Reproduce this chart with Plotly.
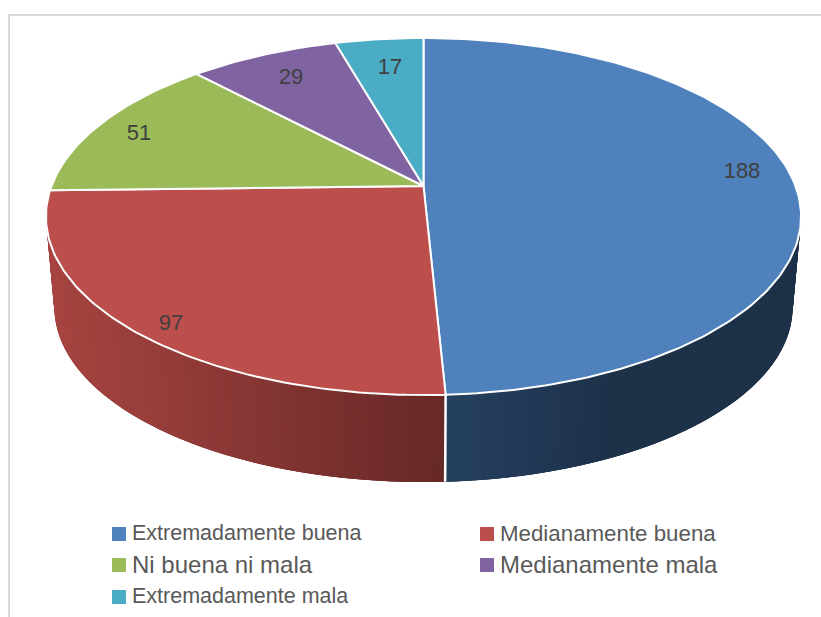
import math
import plotly.graph_objs as go

categories = ["Extremadamente buena", "Medianamente buena", "Ni buena ni mala",
              "Medianamente mala", "Extremadamente mala"]
values = [188, 97, 51, 29, 17]
colors = ["#4f81bd", "#bc4e4b", "#9bbb59", "#8064a2", "#4bacc6"]

# pixel placement (axes below run 1:1 with pixels)
label_x = [742, 171, 139, 291, 390]
label_y = [172, 324, 134, 78, 68]
legend_x = [119, 487, 119, 487, 119]
legend_y = [534, 534, 565, 565, 597]
legend_size = [21.5, 22.3, 24, 24, 21.5]

# the pie is a unit disc seen through a perspective projection
CX, CY = 423.5, 186
A, B, K = 372, 173.3, 0.171
VANISH_Y, DEPTH_SCALE = 4262, 0.9775


def top_point(theta):
    u, v = math.sin(theta), math.cos(theta)
    w = 1 + K * v
    return CX + A * u / w, CY - B * v / w


def bottom_point(theta):
    x, y = top_point(theta)
    return CX + DEPTH_SCALE * (x - CX), VANISH_Y + DEPTH_SCALE * (y - VANISH_Y)


def mix(c0, c1, f):
    f = max(0.0, min(1.0, f))
    return "rgb(%d,%d,%d)" % tuple(round(a + (b - a) * f) for a, b in zip(c0, c1))


def side_color(i, x):
    if i == 0:
        return mix((38, 66, 98), (29, 49, 73), (x - 445) / 180)
    return mix((166, 68, 65), (100, 39, 37), (x - 47) / 398)


total = sum(values)
edges = [0.0]
for val in values:
    edges.append(edges[-1] + 2 * math.pi * val / total)

fig = go.Figure()

# side wall: thin strips from the rim down, front part of the first two slices.
# each strip runs on under its neighbour so no seams show between them
STEP = math.radians(1.0)
for i in (0, 1):
    n = max(2, round((edges[i + 1] - edges[i]) / STEP))
    order = range(n) if i == 1 else range(n - 1, -1, -1)
    for j in order:
        t0 = edges[i] + (edges[i + 1] - edges[i]) * j / n
        t1 = edges[i] + (edges[i + 1] - edges[i]) * (j + 1) / n
        if math.cos(t0) > 0.3 and math.cos(t1) > 0.3:
            continue
        t_far = min(t1 + 2 * STEP, edges[i + 1]) if i == 0 else max(t0 - 2 * STEP, edges[i])
        x0, y0 = top_point(t0 if i == 0 else t_far)
        x1, y1 = top_point(t_far if i == 0 else t1)
        x2, y2 = bottom_point(t_far if i == 0 else t1)
        x3, y3 = bottom_point(t0 if i == 0 else t_far)
        col = side_color(i, (top_point(t0)[0] + top_point(t1)[0]) / 2)
        fig.add_trace(go.Scatter(x=[x0, x1, x2, x3, x0], y=[y0, y1, y2, y3, y0],
                                 mode="lines", fill="toself", fillcolor=col,
                                 line=dict(color=col, width=0),
                                 showlegend=False, hoverinfo="skip"))

# white seam where the two visible slices meet on the wall
sx0, sy0 = top_point(edges[1])
sx1, sy1 = bottom_point(edges[1])
fig.add_trace(go.Scatter(x=[sx0, sx1], y=[sy0, sy1], mode="lines",
                         line=dict(color="white", width=2.5),
                         showlegend=False, hoverinfo="skip"))

# top face
for i, name in enumerate(categories):
    n = max(8, round((edges[i + 1] - edges[i]) / STEP))
    pts = [top_point(edges[i] + (edges[i + 1] - edges[i]) * j / n) for j in range(n + 1)]
    xs = [CX] + [p[0] for p in pts] + [CX]
    ys = [CY] + [p[1] for p in pts] + [CY]
    fig.add_trace(go.Scatter(x=xs, y=ys, mode="lines", fill="toself", fillcolor=colors[i],
                             line=dict(color="white", width=2), name=name,
                             showlegend=False, hoverinfo="skip"))

# data labels
fig.add_trace(go.Scatter(x=label_x, y=label_y, mode="text", text=[str(v) for v in values],
                         textfont=dict(family="Liberation Sans", size=22, color="#404040"),
                         showlegend=False, hoverinfo="skip"))

# legend
fig.add_trace(go.Scatter(x=legend_x, y=legend_y, mode="markers",
                         marker=dict(symbol="square", size=14, color=colors, line=dict(width=0)),
                         showlegend=False, hoverinfo="skip"))
for i, name in enumerate(categories):
    fig.add_annotation(x=legend_x[i] + 11, y=legend_y[i] - 1, text=name, showarrow=False,
                       xanchor="left", yanchor="middle",
                       font=dict(family="Liberation Sans", size=legend_size[i], color="#595959"))

# chart frame, cropped on the right and at the bottom
fig.add_shape(type="rect", x0=9, y0=15, x1=830, y1=630, layer="below",
              line=dict(color="#d9d9d9", width=2), fillcolor="white")

fig.update_xaxes(range=[0, 821], visible=False, fixedrange=True)
fig.update_yaxes(range=[617, 0], visible=False, fixedrange=True)
fig.update_layout(width=821, height=617, margin=dict(l=0, r=0, t=0, b=0),
                  paper_bgcolor="white", plot_bgcolor="white", showlegend=False)

fig.write_html("out.html", config=dict(displayModeBar=False),
               post_script="document.body.style.margin='0';")
